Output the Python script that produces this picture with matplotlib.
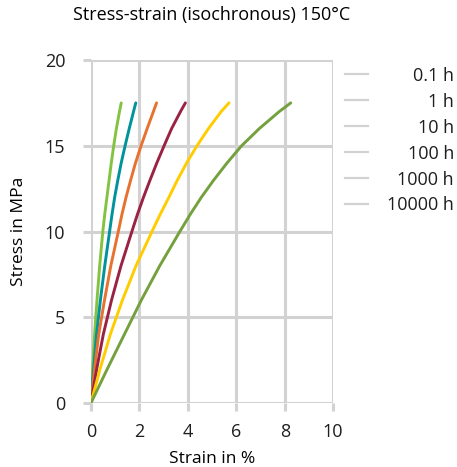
import numpy as np
import matplotlib.pyplot as plt
from matplotlib.lines import Line2D

plt.rcParams['font.family'] = ['Open Sans', 'DejaVu Sans']

# isochronous curves, strain (%) read at fixed stress levels (MPa)
stress = [0, 2, 4, 6, 8, 10, 11, 12, 13, 14, 15, 16, 17, 17.5]
strain_01h = [0, 0.07, 0.15, 0.25, 0.36, 0.49, 0.57, 0.66, 0.75, 0.84, 0.94, 1.05, 1.18, 1.25]
strain_1h = [0, 0.11, 0.23, 0.39, 0.57, 0.77, 0.87, 0.98, 1.11, 1.25, 1.41, 1.58, 1.76, 1.85]
strain_10h = [0, 0.15, 0.32, 0.56, 0.82, 1.13, 1.28, 1.45, 1.64, 1.84, 2.07, 2.32, 2.58, 2.71]
strain_100h = [0, 0.24, 0.51, 0.85, 1.24, 1.69, 1.92, 2.17, 2.44, 2.72, 3.02, 3.33, 3.70, 3.90]
strain_1000h = [0, 0.38, 0.80, 1.30, 1.86, 2.52, 2.86, 3.22, 3.57, 3.95, 4.38, 4.85, 5.38, 5.70]
strain_10000h = [0, 0.68, 1.38, 2.08, 2.84, 3.67, 4.10, 4.56, 5.07, 5.62, 6.22, 6.95, 7.78, 8.25]

labels = ['0.1 h', '1 h', '10 h', '100 h', '1000 h', '10000 h']
colors_list = ['#84c341', '#00939b', '#e8712f', '#9a2243', '#ffcc00', '#74a03d']

curves = [strain_01h, strain_1h, strain_10h, strain_100h, strain_1000h, strain_10000h]

grid_col = '#d2d2d2'

fig = plt.figure(figsize=(4.57, 4.67), dpi=100)
ax = fig.add_axes([0.199, 0.137, 0.530, 0.7345])

for i in range(len(curves)):
	ax.plot(curves[i], stress, color=colors_list[i], lw=2.1, solid_capstyle='round', solid_joinstyle='round', zorder=3)

ax.set_xlim(0, 10)
ax.set_ylim(0, 20)
ax.set_xticks([0, 2, 4, 6, 8, 10])
ax.set_yticks([0, 5, 10, 15, 20])
ax.grid(True, color=grid_col, lw=2.2)
ax.set_axisbelow(True)
for s in ax.spines.values():
	s.set_visible(False)
ax.tick_params(axis='both', color=grid_col, width=2.2, length=5.5, labelsize=13, labelcolor='#1e1e1e')
ax.tick_params(axis='x', pad=9)
ax.tick_params(axis='y', pad=13)

ax.set_xlabel('Strain in %', fontsize=12.5, labelpad=7)
ax.set_ylabel('Stress in MPa', fontsize=12.5, labelpad=13)
fig.text(212 / 457, 1 - 15 / 467, 'Stress-strain (isochronous) 150°C', ha='center', va='center', fontsize=13)

# legend, gray handles with right aligned labels
for i in range(len(labels)):
	yy = 1 - (74 + i * 25.9) / 467
	fig.add_artist(Line2D([345 / 457, 368 / 457], [yy, yy], color=grid_col, lw=1.6))
	fig.text(454 / 457, yy - 2 / 467, labels[i], ha='right', va='center', fontsize=13, color='#1e1e1e')

plt.savefig('out.png', dpi=100)
